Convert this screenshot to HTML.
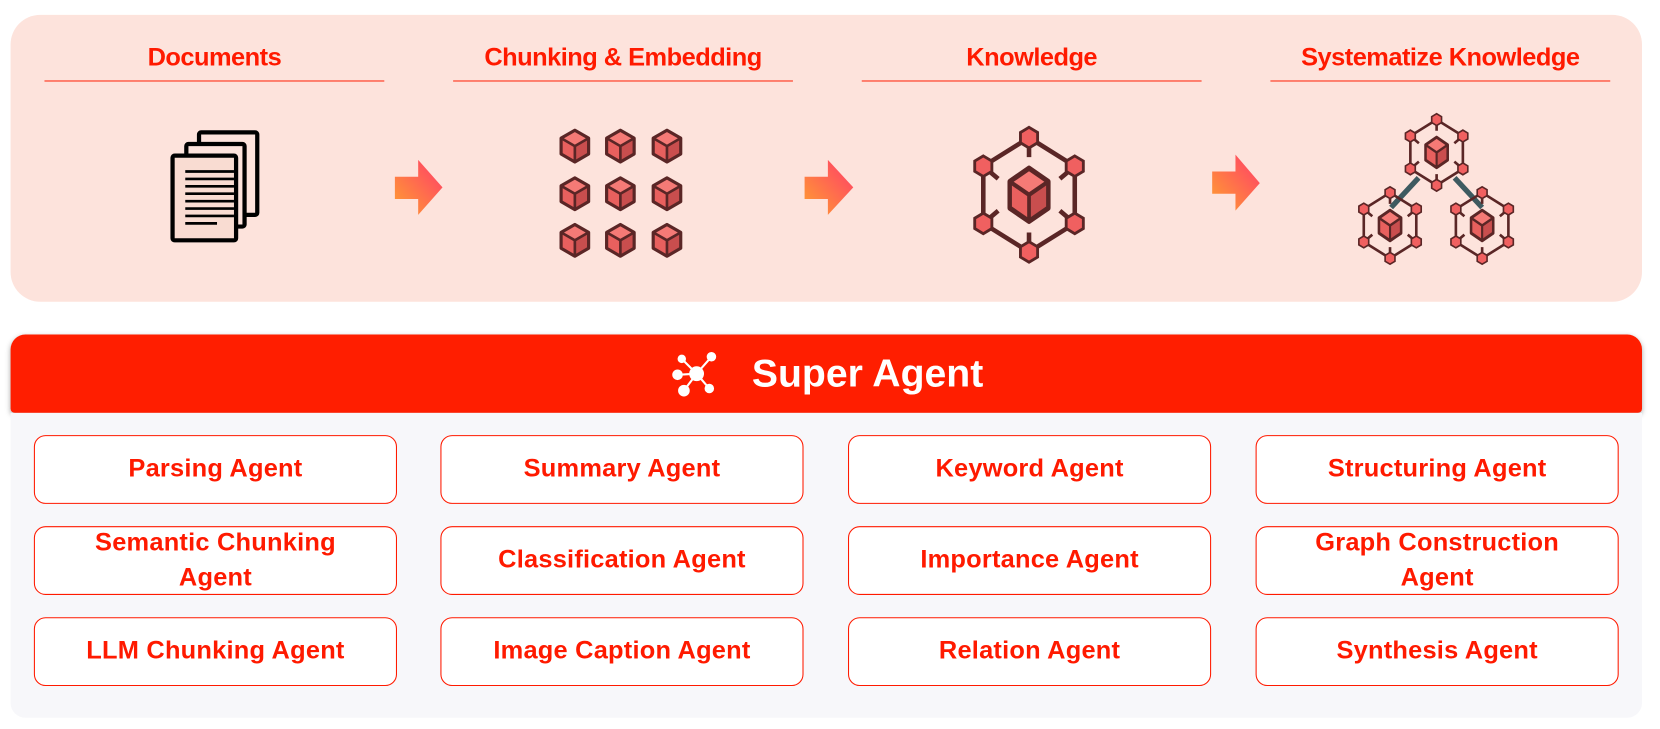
<!DOCTYPE html>
<html><head><meta charset="utf-8"><style>
html,body{margin:0;padding:0;background:#fff;width:1660px;height:729px;overflow:hidden}
#w{position:absolute;left:0;top:0;width:1568px;height:689px;transform:scale(1.05867);transform-origin:0 0;font-family:"Liberation Sans",sans-serif;font-weight:bold}
.top{position:absolute;left:10px;top:14px;width:1541px;height:271px;background:#fde3dc;border-radius:28px}
.h{position:absolute;top:40px;width:321px;text-align:center;color:#ff1a00;font-size:24px;letter-spacing:-0.5px;border-bottom:1.5px solid #ff2a10;padding-bottom:6px;line-height:30px}
.bar{position:absolute;left:10px;top:316px;width:1541px;height:74px;background:#ff1e00;border-radius:14px 14px 4px 4px;box-shadow:0 2px 5px rgba(0,0,0,.35);color:#fff;font-size:37px;display:flex;align-items:center;justify-content:center}
.gray{position:absolute;left:10px;top:390px;width:1541px;height:288px;background:#f7f7fa;border-radius:0 0 14px 14px}
.b{position:absolute;width:341px;height:63px;border:1.5px solid #ff1a00;border-radius:11px;background:#fff;color:#ff1a00;font-size:24px;display:flex;align-items:center;justify-content:center;text-align:center;line-height:1.35;letter-spacing:0.2px}
</style></head><body><div id="w">
<div class="top"></div>
<div class="h" style="left:42px">Documents</div>
<div class="h" style="left:428px">Chunking &amp; Embedding</div>
<div class="h" style="left:814px">Knowledge</div>
<div class="h" style="left:1200px">Systematize Knowledge</div>
<svg style="position:absolute;left:0;top:0" width="1568" height="300">
<defs>
<linearGradient id="ag" x1="0" y1="1" x2="1" y2="0"><stop offset="0" stop-color="#ffa030"/><stop offset="1" stop-color="#ff3c6a"/></linearGradient>
<g id="cube"><polygon points="0,-15 13,-7.5 13,7.5 0,15 -13,7.5 -13,-7.5" fill="#e8605e"/><polygon points="0,0 13,-7.5 13,7.5 0,15" fill="#c94e4e"/><polygon points="0,-15 13,-7.5 0,0 -13,-7.5" fill="#f57a76"/><path d="M-13,-7.5 L0,0 L13,-7.5 M0,0 V15" stroke="#5a2626" stroke-width="2.5" fill="none"/><polygon points="0,-15 13,-7.5 13,7.5 0,15 -13,7.5 -13,-7.5" fill="none" stroke="#5a2626" stroke-width="3" stroke-linejoin="round"/></g>
<g id="hx"><polygon points="0,-9 7.5,-4.5 7.5,4.5 0,9 -7.5,4.5 -7.5,-4.5" fill="#f06060" stroke="#5a2626" stroke-width="2.5"/></g>
<g id="kn">
<path d="M0,-50 L-40,-25 V25 L0,50 L40,25 V-25 Z" fill="none" stroke="#5a2626" stroke-width="4"/>
<path d="M0,-50 V-33 M0,50 V33 M-40,-25 L-27,-14 M40,-25 L27,-14 M-40,25 L-27,14 M40,25 L27,14" stroke="#5a2626" stroke-width="4"/>
<use href="#cube" transform="scale(1.3,1.55)"/>
<use href="#hx" x="0" y="-50"/><use href="#hx" x="0" y="50"/><use href="#hx" x="-40" y="-25"/><use href="#hx" x="40" y="-25"/><use href="#hx" x="-40" y="25"/><use href="#hx" x="40" y="25"/>
</g>
</defs>
<!-- documents -->
<g stroke="#000" stroke-width="4" fill="#fde3dc">
<rect x="188" y="125" width="55" height="78" rx="2"/>
<rect x="176" y="136" width="55" height="78" rx="2"/>
<rect x="163" y="147" width="60" height="80" rx="2" fill="#f9dcd2"/>
</g>
<g stroke="#000" stroke-width="2.5"><path d="M175,162h46M175,169h46M175,176h46M175,183h46M175,190h46M175,197h46M175,204h46M175,211h30"/></g>
<!-- arrows -->
<polygon points="373,167 395,167 395,151 418,177 395,203 395,188 373,188" fill="url(#ag)"/>
<polygon points="760,167 782,167 782,151 806,177 782,203 782,188 760,188" fill="url(#ag)"/>
<polygon points="1145,162 1167,162 1167,146 1190,173 1167,199 1167,183 1145,183" fill="url(#ag)"/>
<!-- cubes -->
<use href="#cube" x="543" y="138"/><use href="#cube" x="586" y="138"/><use href="#cube" x="630" y="138"/>
<use href="#cube" x="543" y="183"/><use href="#cube" x="586" y="183"/><use href="#cube" x="630" y="183"/>
<use href="#cube" x="543" y="227"/><use href="#cube" x="586" y="227"/><use href="#cube" x="630" y="227"/>
<!-- knowledge -->
<use href="#kn" transform="translate(972,184) scale(1.08)"/>
<!-- systematize -->
<path d="M1340,168 L1314,196 M1374,168 L1400,196" stroke="#3e5a60" stroke-width="5"/>
<use href="#kn" transform="translate(1357,144) scale(0.62)"/>
<use href="#kn" transform="translate(1313,213) scale(0.62)"/>
<use href="#kn" transform="translate(1400,213) scale(0.62)"/>
</svg>
<div class="bar"><svg width="52" height="44" viewBox="0 0 52 44" style="margin-right:26px"><g stroke="#fff" stroke-width="2" fill="#fff"><path d="M26,22 L12,8 M26,22 L40,6 M26,22 L8,23 M26,22 L14,38 M26,22 L38,36" fill="none"/><circle cx="26" cy="22" r="6"/><circle cx="12" cy="8" r="3"/><circle cx="40" cy="6" r="3.5"/><circle cx="8" cy="23" r="4"/><circle cx="14" cy="38" r="4.5"/><circle cx="38" cy="36" r="3.5"/></g></svg>Super Agent</div>
<div class="gray"></div>
<div class="b" style="left:32px;top:411px">Parsing Agent</div>
<div class="b" style="left:416px;top:411px">Summary Agent</div>
<div class="b" style="left:801px;top:411px">Keyword Agent</div>
<div class="b" style="left:1186px;top:411px">Structuring Agent</div>
<div class="b" style="left:32px;top:497px">Semantic Chunking<br>Agent</div>
<div class="b" style="left:416px;top:497px">Classification Agent</div>
<div class="b" style="left:801px;top:497px">Importance Agent</div>
<div class="b" style="left:1186px;top:497px">Graph Construction<br>Agent</div>
<div class="b" style="left:32px;top:583px">LLM Chunking Agent</div>
<div class="b" style="left:416px;top:583px">Image Caption Agent</div>
<div class="b" style="left:801px;top:583px">Relation Agent</div>
<div class="b" style="left:1186px;top:583px">Synthesis Agent</div>
</div></body></html>
